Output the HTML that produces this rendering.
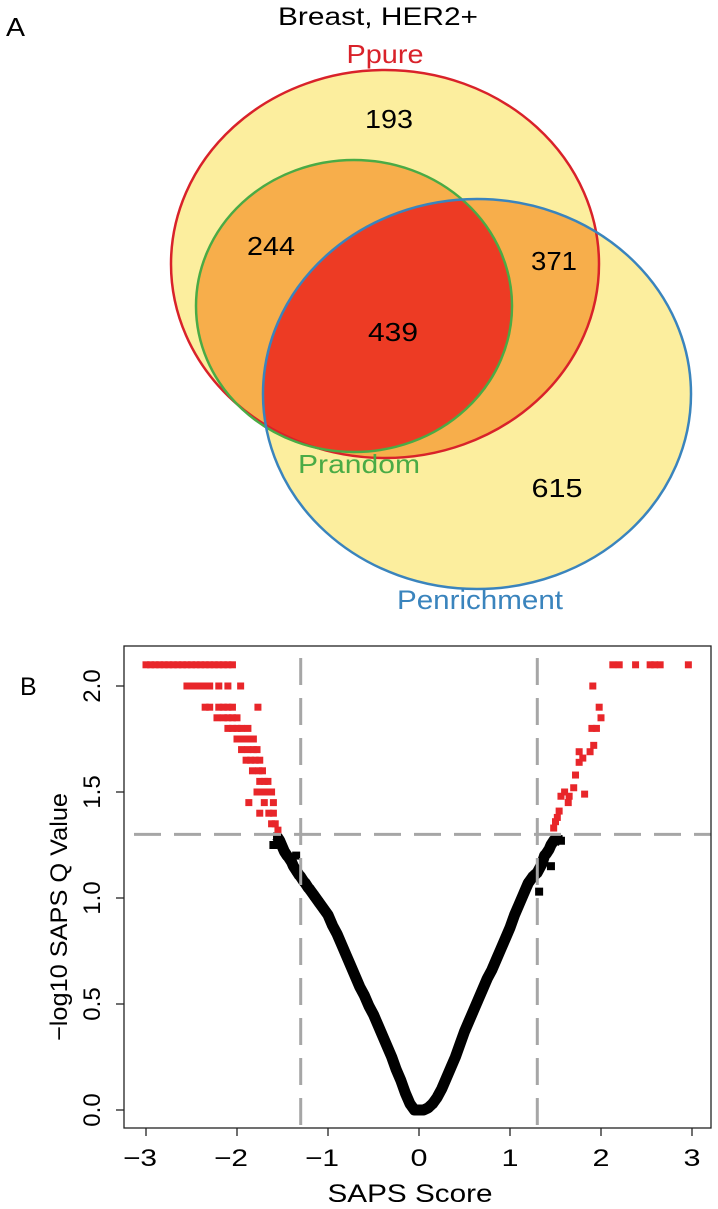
<!DOCTYPE html>
<html><head><meta charset="utf-8"><style>
body{margin:0;background:#fff;}
svg{display:block;font-family:"Liberation Sans",Arial,sans-serif;}
</style></head><body>
<svg id="fig" width="718" height="1209" viewBox="0 0 718 1209">
<defs>
<clipPath id="cRed"><ellipse cx="385" cy="264" rx="214" ry="194"/></clipPath>
<clipPath id="cGreen"><ellipse cx="354" cy="306" rx="158" ry="146"/></clipPath>
</defs>
<g>
<text x="6" y="36" font-size="26" textLength="19" lengthAdjust="spacingAndGlyphs">A</text>
<text x="378" y="25" font-size="25" text-anchor="middle" textLength="200" lengthAdjust="spacingAndGlyphs">Breast, HER2+</text>
<ellipse cx="385" cy="264" rx="214" ry="194" fill="#fcee9e"/>
<ellipse cx="477" cy="394" rx="214" ry="195" fill="#fcee9e"/>
<ellipse cx="354" cy="306" rx="158" ry="146" fill="#f7ae4b"/>
<g clip-path="url(#cRed)"><ellipse cx="477" cy="394" rx="214" ry="195" fill="#f7ae4b"/></g>
<g clip-path="url(#cRed)"><g clip-path="url(#cGreen)"><ellipse cx="477" cy="394" rx="214" ry="195" fill="#ed3b24"/></g></g>
<ellipse cx="385" cy="264" rx="214" ry="194" fill="none" stroke="#d9222a" stroke-width="2.5"/>
<ellipse cx="354" cy="306" rx="158" ry="146" fill="none" stroke="#4aab45" stroke-width="2.5"/>
<ellipse cx="477" cy="394" rx="214" ry="195" fill="none" stroke="#3a84bd" stroke-width="2.5"/>
<text x="385" y="63" font-size="26" fill="#d9222a" text-anchor="middle" textLength="77" lengthAdjust="spacingAndGlyphs">Ppure</text>
<text x="359" y="473" font-size="26" fill="#4aab45" text-anchor="middle" textLength="122" lengthAdjust="spacingAndGlyphs">Prandom</text>
<text x="480" y="609" font-size="27" fill="#3a84bd" text-anchor="middle" textLength="166" lengthAdjust="spacingAndGlyphs">Penrichment</text>
<text x="389" y="128" font-size="26" text-anchor="middle" textLength="48" lengthAdjust="spacingAndGlyphs">193</text>
<text x="271" y="255" font-size="26" text-anchor="middle" textLength="48" lengthAdjust="spacingAndGlyphs">244</text>
<text x="554" y="270" font-size="26" text-anchor="middle" textLength="46" lengthAdjust="spacingAndGlyphs">371</text>
<text x="393" y="341" font-size="26" text-anchor="middle" textLength="50" lengthAdjust="spacingAndGlyphs">439</text>
<text x="557" y="497" font-size="26" text-anchor="middle" textLength="51" lengthAdjust="spacingAndGlyphs">615</text>
</g>
<g id="plot"></g>
</svg>
<script>
const xTicks=[-3,-2,-1,0,1,2,3];
const yTicks=[0.0,0.5,1.0,1.5,2.0];
const yTickLabels=["0.0","0.5","1.0","1.5","2.0"];
const thresholdX=[-1.3,1.3];
const thresholdY=[1.3];
const blackX=[-1.56,-1.53,-1.5,-1.48,-1.45,-1.43,-1.4,-1.38,-1.35,-1.32,-1.3,-1.27,-1.25,-1.22,-1.2,-1.15,-1.1,-1.05,-1.0,-0.95,-0.9,-0.85,-0.8,-0.75,-0.7,-0.65,-0.6,-0.55,-0.5,-0.45,-0.4,-0.35,-0.3,-0.25,-0.2,-0.15,-0.1,-0.05,0,0.05,0.1,0.15,0.2,0.25,0.3,0.35,0.4,0.45,0.5,0.55,0.6,0.65,0.7,0.75,0.8,0.85,0.9,0.95,1.0,1.05,1.1,1.15,1.2,1.25,1.3,1.35,1.38,1.4,1.43,1.45,1.48,1.5,1.56,-1.6,-1.35,1.32,1.45];
const blackY=[1.29,1.27,1.24,1.22,1.2,1.19,1.17,1.15,1.13,1.11,1.1,1.08,1.07,1.05,1.04,1.01,0.98,0.95,0.92,0.87,0.83,0.78,0.73,0.68,0.63,0.58,0.54,0.49,0.45,0.4,0.35,0.3,0.25,0.19,0.14,0.08,0.03,0.0,0.0,0.0,0.01,0.03,0.06,0.1,0.15,0.2,0.25,0.31,0.37,0.42,0.47,0.52,0.57,0.62,0.66,0.71,0.76,0.81,0.86,0.92,0.97,1.02,1.07,1.1,1.12,1.16,1.2,1.21,1.23,1.25,1.27,1.28,1.27,1.25,1.2,1.03,1.15];
const redX=[-3.0,-2.95,-2.9,-2.85,-2.8,-2.75,-2.7,-2.65,-2.6,-2.55,-2.5,-2.45,-2.4,-2.35,-2.3,-2.25,-2.2,-2.15,-2.1,-2.05,
-2.55,-2.5,-2.45,-2.4,-2.35,-2.3,-2.2,-2.1,-1.96,
-2.35,-2.3,-2.2,-2.15,-2.1,-2.05,-1.77,
-2.22,-2.15,-2.1,-2.05,-2.0,
-2.1,-2.05,-2.0,-1.95,-1.88,
-2.0,-1.95,-1.88,-1.82,
-1.95,-1.88,-1.82,-1.78,
-1.9,-1.85,-1.8,-1.75,
-1.83,-1.76,-1.72,
-1.75,-1.7,-1.66,
-1.78,-1.72,-1.68,-1.62,
-1.87,-1.7,-1.6,
-1.75,-1.65,-1.6,
-1.62,-1.58,-1.55,
1.48,1.5,1.52,1.54,
1.56,1.6,1.65,1.82,
1.64,1.7,
1.72,1.76,1.8,
1.76,1.88,1.92,
1.9,1.95,
1.98,2.0,
1.91,
2.13,2.2,2.38,2.54,2.59,2.65,2.96];
const redY=[2.1,2.1,2.1,2.1,2.1,2.1,2.1,2.1,2.1,2.1,2.1,2.1,2.1,2.1,2.1,2.1,2.1,2.1,2.1,2.1,
2.0,2.0,2.0,2.0,2.0,2.0,2.0,2.0,2.0,
1.9,1.9,1.9,1.9,1.9,1.9,1.9,
1.85,1.85,1.85,1.85,1.85,
1.8,1.8,1.8,1.8,1.8,
1.75,1.75,1.75,1.75,
1.7,1.7,1.7,1.7,
1.65,1.65,1.65,1.65,
1.6,1.6,1.6,
1.55,1.55,1.55,
1.5,1.5,1.5,1.5,
1.45,1.45,1.45,
1.4,1.4,1.4,
1.35,1.35,1.32,
1.33,1.36,1.38,1.41,
1.48,1.5,1.48,1.49,
1.45,1.52,
1.58,1.64,1.66,
1.69,1.69,1.72,
1.8,1.8,
1.9,1.85,
2.0,
2.1,2.1,2.1,2.1,2.1,2.1,2.1];

const NS='http://www.w3.org/2000/svg';
const plot=document.getElementById('plot');
const L=124,R=711,T=646,B=1128;
function sx(v){return 419+v*91;}
function sy(v){return 1110-v*212;}
function mk(tag,attrs,parent){const e=document.createElementNS(NS,tag);for(const k in attrs)e.setAttribute(k,attrs[k]);(parent||plot).appendChild(e);return e;}

let t=mk('text',{x:20,y:695,'font-size':25});t.textContent='B';



let pts='';
for(let i=0;i<73;i++){pts+=sx(blackX[i])+','+sy(blackY[i])+' ';}
let pl=mk('polyline',{points:pts,fill:'none',stroke:'#000','stroke-width':11,'stroke-linejoin':'round'});


for(let i=0;i<blackX.length;i++){
  const r=mk('rect',{x:sx(blackX[i])-4,y:sy(blackY[i])-4,width:8,height:8,fill:'#000'});
  
  
}
for(let i=0;i<redX.length;i++){
  const r=mk('rect',{x:sx(redX[i])-3.5,y:sy(redY[i])-3.5,width:7,height:7,fill:'#e8262a'});
  
  
}
thresholdX.forEach(v=>{
  const l=mk('line',{x1:sx(v),x2:sx(v),y1:T+12,y2:B,stroke:'#a6a6a6','stroke-width':3,'stroke-dasharray':'27,13'});
  
  
});
thresholdY.forEach(v=>{
  const l=mk('line',{x1:L+10,x2:R,y1:sy(v),y2:sy(v),stroke:'#a6a6a6','stroke-width':3,'stroke-dasharray':'27,13'});
  
  
});
const box=mk('rect',{x:L,y:T,width:R-L,height:B-T,fill:'none',stroke:'#222','stroke-width':1.3});


xTicks.forEach(v=>{
  const l=mk('line',{x1:sx(v),x2:sx(v),y1:B,y2:B+8,stroke:'#222','stroke-width':1.3});
  
  
  const tx=mk('text',{x:sx(v)-(v<0?6:0),y:1166,'font-size':24,'text-anchor':'middle',textLength:(v<0?34:17),lengthAdjust:'spacingAndGlyphs'});
  tx.textContent=(v<0?'\u2212'+(-v):String(v));
  
  
});
yTicks.forEach((v,i)=>{
  const l=mk('line',{x1:L-8,x2:L,y1:sy(v),y2:sy(v),stroke:'#222','stroke-width':1.3});
  
  
  const tx=mk('text',{x:0,y:0,'font-size':24,'text-anchor':'middle',transform:'translate(100,'+sy(v)+') rotate(-90)'});
  tx.textContent=yTickLabels[i];
  
  
});
const xt=mk('text',{x:410,y:1202,'font-size':25,'text-anchor':'middle',textLength:165,lengthAdjust:'spacingAndGlyphs'});
xt.textContent='SAPS Score';


const yt=mk('text',{x:0,y:0,'font-size':24,'text-anchor':'middle',textLength:248,lengthAdjust:'spacingAndGlyphs',transform:'translate(67,917) rotate(-90)'});
yt.textContent='\u2212log10 SAPS Q Value';


</script>
</body></html>
